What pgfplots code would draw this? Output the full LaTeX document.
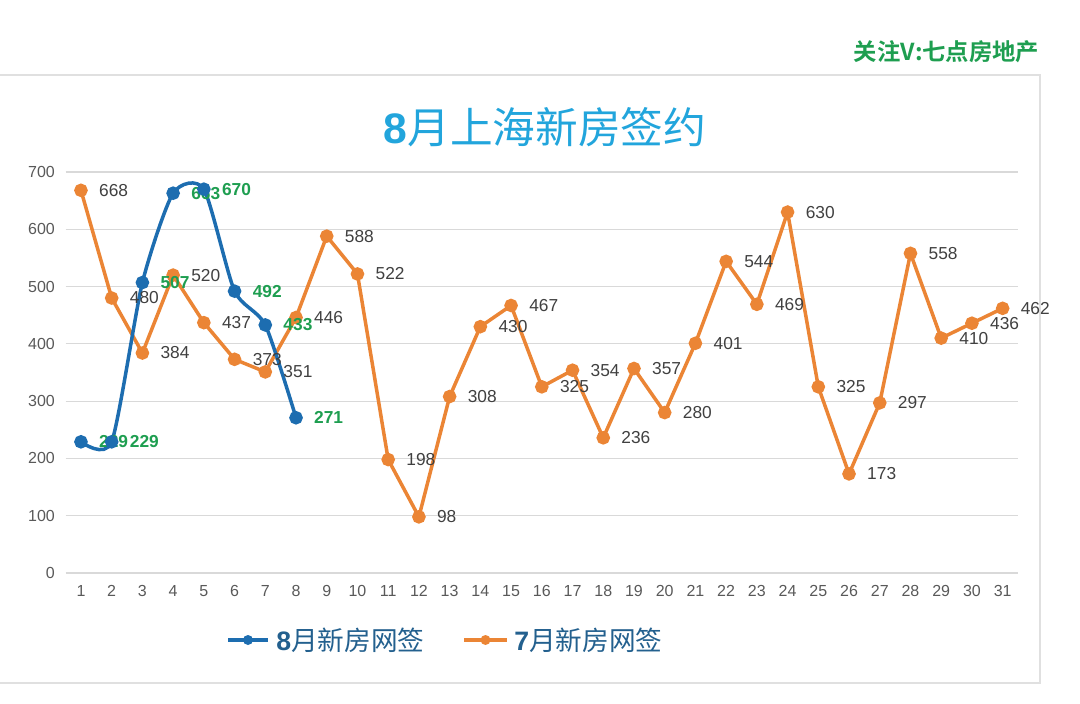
\documentclass[border=0pt]{standalone}
\usepackage{fontspec}
\setmainfont{Liberation Sans}
\newfontfamily\cjk{Noto Sans CJK SC}
\newfontfamily\cjkb{Noto Sans CJK SC Bold}
\usepackage{pgfplots}
\pgfplotsset{compat=1.18}
\definecolor{ttl}{HTML}{22A5DC}
\definecolor{bl}{HTML}{1D6DB0}
\definecolor{og}{HTML}{EB8535}
\definecolor{gr}{HTML}{1E9E50}
\definecolor{lg}{HTML}{23608E}
\definecolor{tk}{HTML}{595959}
\newlength\px
\setlength\px{0.75pt}
\begin{document}
\begin{tikzpicture}[x=\px,y=\px]
\useasboundingbox (0,0) rectangle (1080,703);
% frame
\draw[draw=black!12, line width=1.5\px] (-5,703-75) rectangle (1040,703-683);
% watermark
\node[anchor=east, text=gr, font=\cjkb\fontsize{17.5}{20}\selectfont] at (1044,703-52) {关注V:七点房地产};
% title
\node[text=ttl, font=\fontsize{32}{36}\selectfont] at (545,703-127) {\textbf{8}\cjk 月上海新房签约};
\begin{axis}[
  at={(65.6\px,130\px)}, anchor=south west,
  scale only axis, width=952.4\px, height=401\px,
  xmin=0.5, xmax=31.5, ymin=0, ymax=700,
  axis line style={draw=none},
  xtick={1,...,31}, ytick={0,100,...,700},
  major tick length=0pt,
  ymajorgrids, grid style={draw=black!15, line width=1.2\px},
  /pgf/number format/assume math mode=true,
  tick label style={text=tk, font=\fontsize{12}{14}\selectfont},
  yticklabel style={xshift=-6\px},
  xticklabel style={yshift=-8\px},
  clip=false,
  nodes near coords,
  every node near coord/.append style={anchor=west, xshift=12\px, font=\fontsize{13}{15}\selectfont},
]
\addplot[og, line width=3.5\px, mark=*, mark size=5\px,
  every node near coord/.append style={text=black!75}]
coordinates {(1,668)(2,480)(3,384)(4,520)(5,437)(6,373)(7,351)(8,446)(9,588)(10,522)(11,198)(12,98)(13,308)(14,430)(15,467)(16,325)(17,354)(18,236)(19,357)(20,280)(21,401)(22,544)(23,469)(24,630)(25,325)(26,173)(27,297)(28,558)(29,410)(30,436)(31,462)};
\addplot[bl, line width=3.5\px, smooth, tension=0.4, mark=*, mark size=5\px,
  every node near coord/.append style={text=gr, font=\bfseries\fontsize{13}{15}\selectfont}]
coordinates {(1,229)(2,229)(3,507)(4,663)(5,670)(6,492)(7,433)(8,271)};
\end{axis}
% legend
\draw[bl, line width=3.5\px] (228,703-640) -- (268,703-640);
\fill[bl] (248,703-640) circle (5\px);
\node[anchor=west, text=lg, font=\fontsize{20}{24}\selectfont, inner sep=0] at (276,703-640) {\textbf{8}\cjk 月新房网签};
\draw[og, line width=3.5\px] (464,703-640) -- (507,703-640);
\fill[og] (485.5,703-640) circle (5\px);
\node[anchor=west, text=lg, font=\fontsize{20}{24}\selectfont, inner sep=0] at (514,703-640) {\textbf{7}\cjk 月新房网签};
\end{tikzpicture}
\end{document}
